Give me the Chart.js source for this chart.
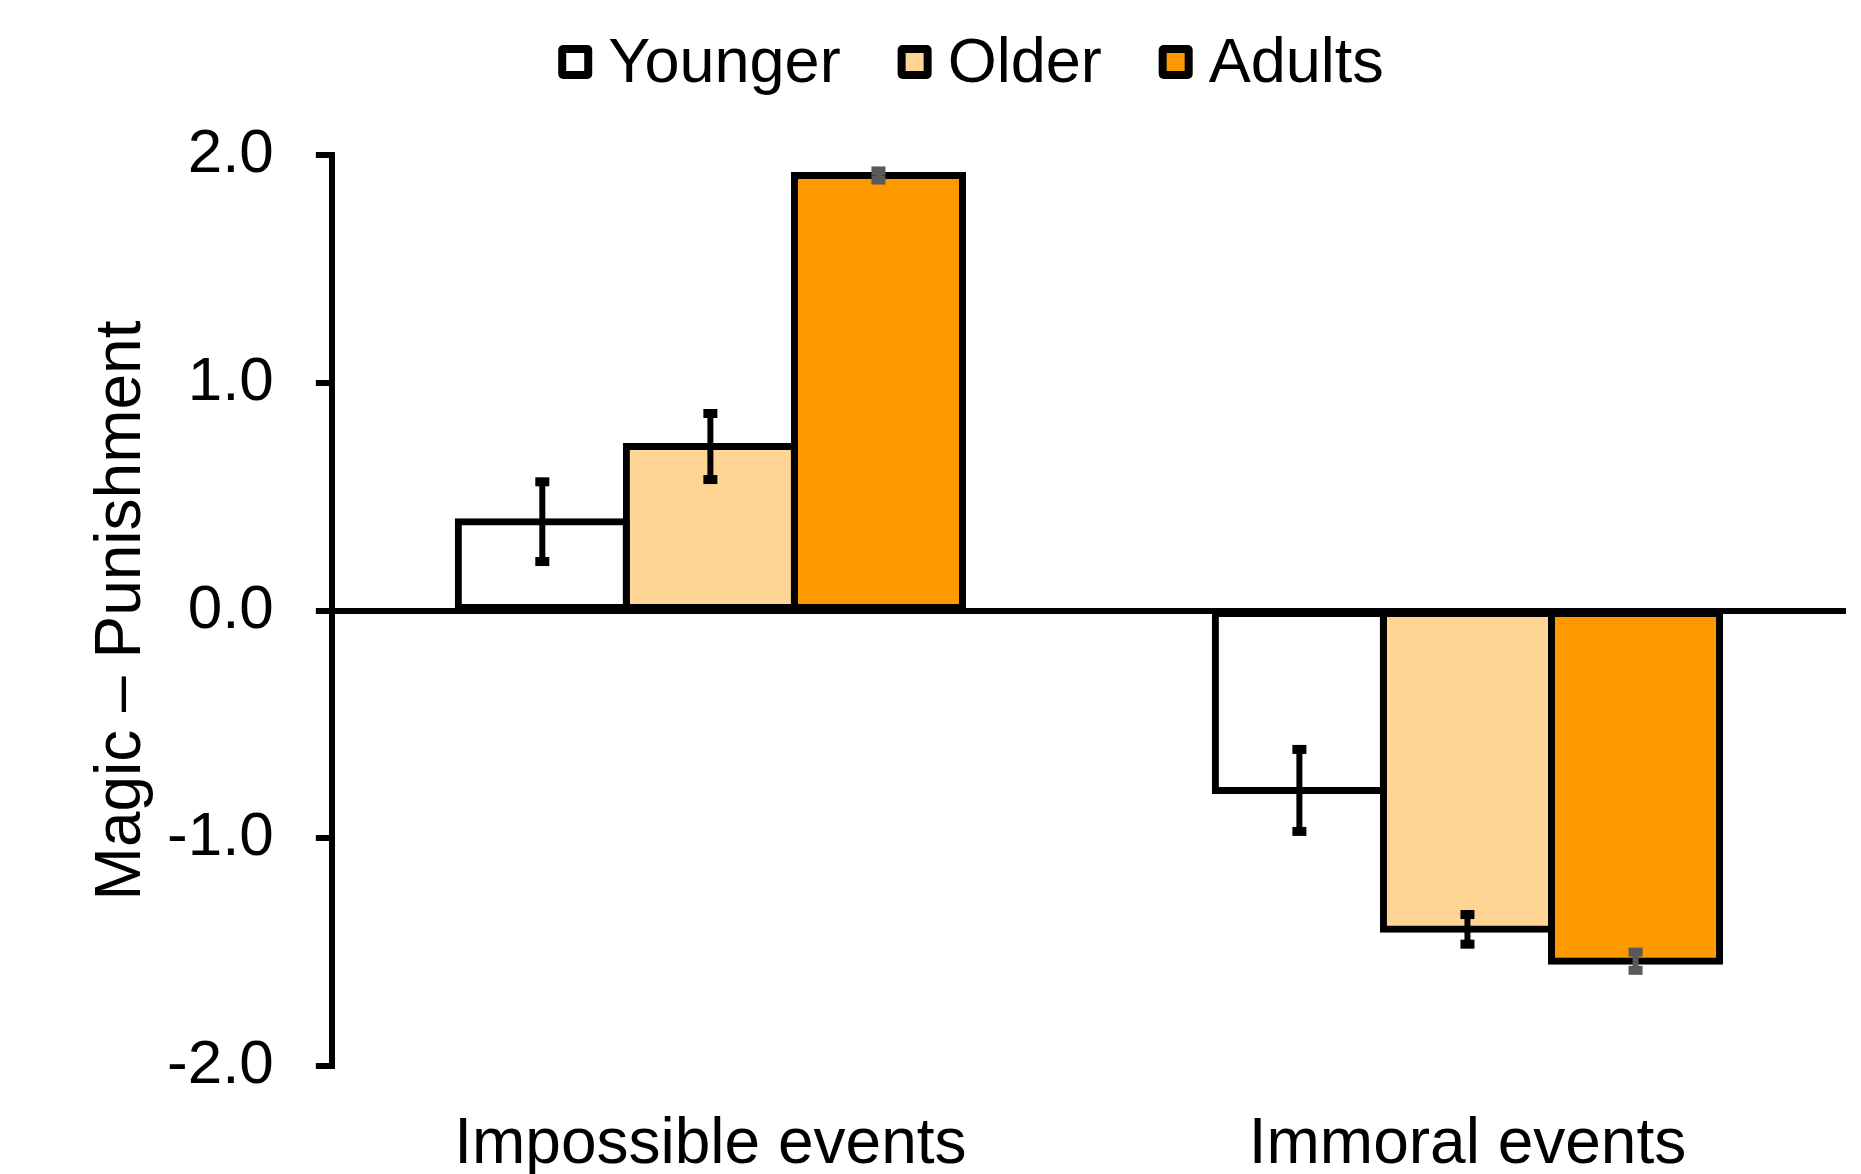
<!DOCTYPE html>
<html>
<head>
<meta charset="utf-8">
<script src="https://cdn.jsdelivr.net/npm/chart.js@4"></script>
<style>
    html, body { margin: 0; padding: 0; background: #fff; }
    #wrap { width: 1861px; height: 1174px; }
</style>
</head>
<body>
<div id="wrap"><canvas id="magicChart"></canvas></div>
<script>
var categories = ['Impossible events', 'Immoral events'];
var younger = [0.39, -0.79];
var older = [0.72, -1.40];
var adults = [1.91, -1.54];
var youngerErr = [0.175, 0.18];
var olderErr = [0.145, 0.065];
var adultsErr = [0.02, 0.04];
var yMin = -2;
var yMax = 2;
var yStep = 1;

var white = '#ffffff';
var lightOrange = 'rgb(255, 213, 150)';
var orange = 'rgb(255, 153, 0)';
var fontFamily = '"Liberation Sans", Arial, Helvetica, sans-serif';

////////////////////////////////////////////////////////////////////////////////
// Error bars, drawn on top of each bar.

var errorBars = {
    id: 'errorBars',
    afterDatasetsDraw: function (chart) {
        var ctx = chart.ctx;
        var yScale = chart.scales.y;
        chart.data.datasets.forEach(function (ds, i) {
            var meta = chart.getDatasetMeta(i);
            meta.data.forEach(function (bar, j) {
                var v = ds.data[j];
                var e = ds.errors[j];
                var top = yScale.getPixelForValue(v + e);
                var bottom = yScale.getPixelForValue(v - e);
                ctx.save();
                ctx.strokeStyle = ds.errorColor;
                ctx.fillStyle = ds.errorColor;
                ctx.lineWidth = 6;
                ctx.beginPath();
                ctx.moveTo(bar.x, top);
                ctx.lineTo(bar.x, bottom);
                ctx.stroke();
                // Caps.
                ctx.fillRect(bar.x - 7, top - 4.5, 14, 9);
                ctx.fillRect(bar.x - 7, bottom - 4.5, 14, 9);
                ctx.restore();
            });
        });
    }
};

////////////////////////////////////////////////////////////////////////////////
// Legend across the top.

var topLegend = {
    id: 'topLegend',
    afterDraw: function (chart) {
        var ctx = chart.ctx;
        var sets = chart.data.datasets;
        var box = 34, gap = 16, spacing = 57, edge = 8;
        ctx.save();
        ctx.font = '63px ' + fontFamily;
        var total = 0;
        sets.forEach(function (ds) {
            total += box + gap + ctx.measureText(ds.label).width;
        });
        total += spacing * (sets.length - 1);
        var x = 971 - total / 2;
        sets.forEach(function (ds) {
            ctx.fillStyle = '#000';
            ctx.beginPath();
            ctx.roundRect(x, 45, box, box, 5);
            ctx.fill();
            ctx.fillStyle = ds.backgroundColor;
            ctx.fillRect(x + edge, 45 + edge, box - 2 * edge, box - 2 * edge);
            ctx.fillStyle = '#000';
            ctx.textBaseline = 'alphabetic';
            ctx.textAlign = 'left';
            ctx.fillText(ds.label, x + box + gap, 82);
            x += box + gap + ctx.measureText(ds.label).width + spacing;
        });
        ctx.restore();
    }
};

var ctx = document.getElementById('magicChart').getContext('2d');
var myChart = new Chart(ctx, {
    type: 'bar',
    plugins: [errorBars, topLegend],
    data: {
        labels: categories,
        datasets: [{
            label: 'Younger',
            data: younger,
            errors: youngerErr,
            errorColor: '#000',
            backgroundColor: white
        }, {
            label: 'Older',
            data: older,
            errors: olderErr,
            errorColor: '#000',
            backgroundColor: lightOrange
        }, {
            label: 'Adults',
            data: adults,
            errors: adultsErr,
            errorColor: '#595959',
            backgroundColor: orange
        }]
    },
    options: {
        responsive: true,
        maintainAspectRatio: false,
        animation: false,
        layout: {
            padding: { top: 155, left: 119, right: 15, bottom: 0 }
        },
        datasets: {
            bar: {
                borderColor: '#000',
                borderWidth: 7,
                borderSkipped: false,
                // Centre the outline on the bar edge so neighbours share one line.
                inflateAmount: 3.5,
                categoryPercentage: 0.666,
                barPercentage: 1
            }
        },
        plugins: {
            legend: { display: false },
            tooltip: { enabled: false }
        },
        scales: {
            x: {
                // Invisible tick marks only push the labels down.
                grid: {
                    display: true,
                    drawOnChartArea: false,
                    drawTicks: true,
                    tickLength: 50,
                    color: 'rgba(0,0,0,0)'
                },
                border: { display: false },
                ticks: {
                    color: '#000',
                    padding: 1,
                    font: { family: fontFamily, size: 64, lineHeight: '56px' }
                }
            },
            y: {
                min: yMin,
                max: yMax,
                border: { display: true, color: '#000', width: 6 },
                grid: {
                    // Only the zero line is drawn across the plot.
                    color: function (c) { return c.tick && c.tick.value === 0 ? '#000' : 'rgba(0,0,0,0)'; },
                    tickColor: '#000',
                    lineWidth: 6,
                    tickLength: 16
                },
                ticks: {
                    stepSize: yStep,
                    color: '#000',
                    padding: 42,
                    font: { family: fontFamily, size: 62 },
                    callback: function (v) { return v.toFixed(1); }
                },
                title: {
                    display: true,
                    text: 'Magic \u2013 Punishment',
                    color: '#000',
                    padding: { top: 0, bottom: 0 },
                    font: { family: fontFamily, size: 64, lineHeight: '6px' }
                }
            }
        }
    }
});
</script>
</body>
</html>
